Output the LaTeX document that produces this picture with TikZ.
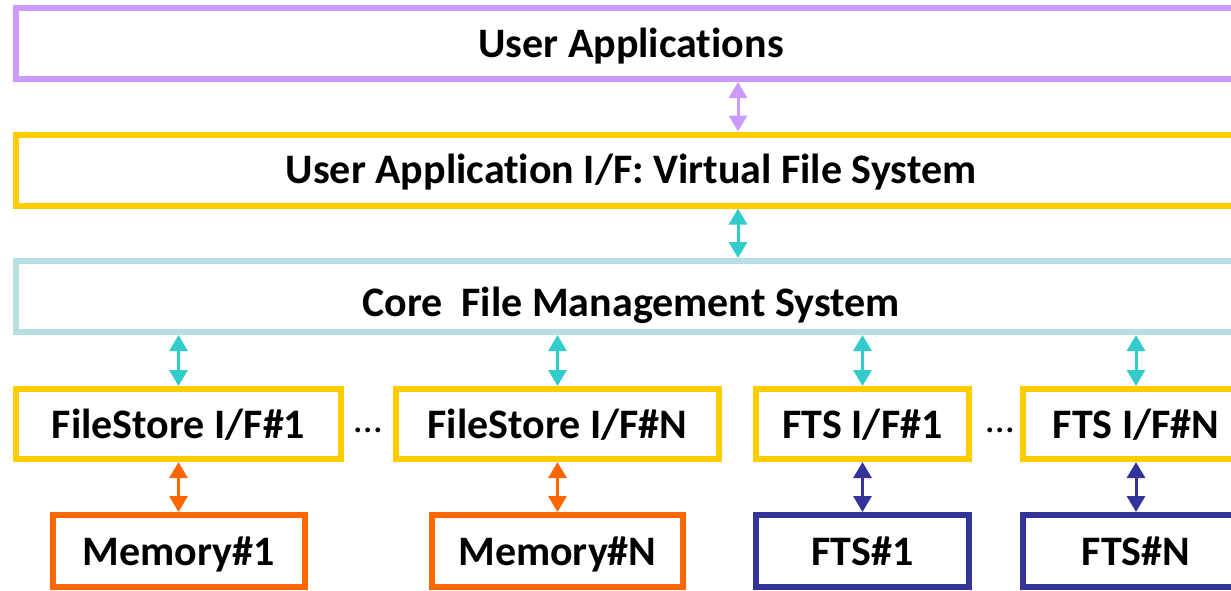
\documentclass[tikz,border=0pt]{standalone}
\usepackage{fontspec}
\setmainfont{Carlito}[Ligatures=CommonOff]
\usepackage{tikz}
\usetikzlibrary{arrows.meta,positioning}
\definecolor{appPurple}{RGB}{204,153,255}
\definecolor{ifYellow}{RGB}{255,204,0}
\definecolor{coreTeal}{RGB}{183,222,224}
\definecolor{linkCyan}{RGB}{51,204,204}
\definecolor{memOrange}{RGB}{255,102,0}
\definecolor{ftsNavy}{RGB}{51,51,153}
\tikzset{
  layer/.style={draw,line width=6pt,minimum width=1230pt,minimum height=71pt,
                inner sep=0pt,text height=27pt,text depth=0pt,
                font=\fontsize{42}{50}\selectfont\bfseries},
  iface/.style={draw=ifYellow,line width=6pt,minimum height=70pt,
                inner sep=0pt,text height=29pt,text depth=0pt,
                font=\fontsize{42}{50}\selectfont\bfseries},
  store/.style={line width=6pt,minimum height=72pt,
                inner sep=0pt,text height=29pt,text depth=0pt,
                font=\fontsize{42}{50}\selectfont\bfseries},
  gap/.style={inner sep=0pt,font=\fontsize{40}{48}\selectfont},
  darr/.style={{Triangle[width=18pt,length=16pt]}-{Triangle[width=18pt,length=16pt]},
               line width=3pt},
}

\begin{document}
\begin{tikzpicture}[x=1pt,y=-1pt,node distance=49.5pt]
  \useasboundingbox (0,0) rectangle (1231,590);
  %% ── Layers (stacked top-to-bottom) ─────────────────────────────────────
  \node[layer,draw=appPurple] (apps) at (631,43.5) {User Applications};
  \node[layer,draw=ifYellow,below=of apps] (vfs)  {User Application I/F: Virtual File System};
  \node[layer,draw=coreTeal,below=of vfs,text height=40pt] (core) {Core\ \ File Management System};

  %% ── Interfaces ──────────────────────────────────────────────────────────
  \node[iface,minimum width=325pt] (fsA)  at (178.5,424) {FileStore I/F\#1};
  \node[iface,minimum width=323pt] (fsN)  at (557.5,424) {FileStore I/F\#N};
  \node[iface,minimum width=213pt] (ftsA) at (862.5,424) {FTS I/F\#1};
  \node[iface,minimum width=226pt] (ftsN) at (1136,424)  {FTS I/F\#N};
  \node[gap] (dotsA) at (368,430) {\ldots};
  \node[gap] (dotsB) at (1000,430) {\ldots};

  %% ── Back ends ───────────────────────────────────────────────────────────
  \begin{scope}[node distance=50pt]
    \node[store,draw=memOrange,minimum width=252pt,below=of fsA]  (memA) {Memory\#1};
    \node[store,draw=memOrange,minimum width=251pt,below=of fsN]  (memN) {Memory\#N};
    \node[store,draw=ftsNavy,minimum width=213pt,below=of ftsA]   (ftA)  {FTS\#1};
    \node[store,draw=ftsNavy,minimum width=226pt,below=of ftsN]   (ftN)  {FTS\#N};
  \end{scope}

  %% ── Arrows ──────────────────────────────────────────────────────────────
  \draw[darr,appPurple] ([xshift=107pt]apps.south) -- ([xshift=107pt]vfs.north);
  \draw[darr,linkCyan]  ([xshift=107pt]vfs.south)  -- ([xshift=107pt]core.north);
  \foreach \b in {fsA,fsN,ftsA,ftsN}{
    \draw[darr,linkCyan] (core.south -| \b.north) -- (\b.north);
  }
  \foreach \a/\b in {fsA/memA,fsN/memN}{
    \draw[darr,memOrange] (\a.south) -- (\b.north);
  }
  \foreach \a/\b in {ftsA/ftA,ftsN/ftN}{
    \draw[darr,ftsNavy] (\a.south) -- (\b.north);
  }
\end{tikzpicture}
\end{document}
